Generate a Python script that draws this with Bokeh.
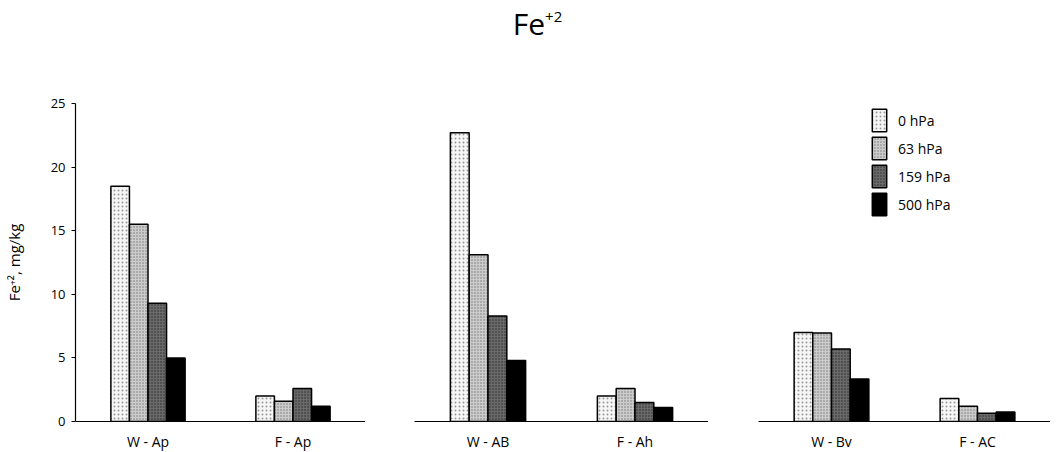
from bokeh.plotting import figure
from bokeh.models import ColumnDataSource, FactorRange, Range1d, Div, Legend
from bokeh.layouts import row, column
from bokeh.transform import dodge
from bokeh.embed import file_html
from bokeh.resources import INLINE

# ---- data ----
panel1 = ["W - Ap", "F - Ap"]
panel2 = ["W - AB", "F - Ah"]
panel3 = ["W - Bv", "F - AC"]
series_names = ["0 hPa", "63 hPa", "159 hPa", "500 hPa"]
v0 = [18.5, 2.0, 22.7, 2.0, 7.0, 1.8]
v63 = [15.5, 1.6, 13.1, 2.6, 6.95, 1.2]
v159 = [9.3, 2.6, 8.3, 1.5, 5.7, 0.65]
v500 = [5.0, 1.2, 4.8, 1.1, 3.35, 0.75]
y_ticks = [0, 5, 10, 15, 20, 25]

FONT = "Open Sans"
styles = [
    dict(fill_color="#f6f6f6", hatch_pattern="dot", hatch_color="#9a9a9a", hatch_scale=4, hatch_weight=1),
    dict(fill_color="#cccccc", hatch_pattern="dot", hatch_color="#777777", hatch_scale=3, hatch_weight=1),
    dict(fill_color="#6a6a6a", hatch_pattern="dot", hatch_color="#2a2a2a", hatch_scale=3, hatch_weight=1),
    dict(fill_color="#000000"),
]
offsets = [-0.192, -0.064, 0.064, 0.192]
bar_w = 0.128
FRAME_H = 318
TOP = 55

def make_panel(cats, idx, frame_w, border_left, with_y=False, with_legend=False):
    src = ColumnDataSource(dict(
        cat=cats,
        s0=v0[idx:idx + 2], s1=v63[idx:idx + 2], s2=v159[idx:idx + 2], s3=v500[idx:idx + 2],
    ))
    p = figure(
        x_range=FactorRange(factors=cats, range_padding=0),
        y_range=Range1d(0, 25),
        frame_width=frame_w, frame_height=FRAME_H,
        output_backend="svg", toolbar_location=None,
        y_axis_location="left" if with_y else None,
        min_border_left=border_left, min_border_right=0,
        min_border_top=TOP, min_border_bottom=0,
    )
    p.outline_line_color = None
    p.xgrid.visible = False
    p.ygrid.visible = False
    p.background_fill_color = None
    p.border_fill_color = None
    rends = []
    for k in range(4):
        r = p.vbar(x=dodge("cat", offsets[k], range=p.x_range), top="s%d" % k, width=bar_w,
                   source=src, line_color="black", line_width=1.5, **styles[k])
        rends.append(r)
    xa = p.xaxis[0]
    xa.axis_line_color = "black"
    xa.axis_line_width = 1.2
    xa.major_tick_line_color = None
    xa.minor_tick_line_color = None
    xa.major_label_text_font = FONT
    xa.major_label_text_font_size = "14px"
    xa.major_label_text_color = "black"
    xa.major_label_standoff = 4
    if with_y:
        ya = p.yaxis[0]
        ya.ticker = y_ticks
        ya.axis_line_color = "black"
        ya.axis_line_width = 1.2
        ya.major_tick_out = 4
        ya.major_tick_in = 0
        ya.major_tick_line_color = "black"
        ya.minor_tick_line_color = None
        ya.major_label_text_font = FONT
        ya.major_label_text_font_size = "13px"
        ya.major_label_text_color = "black"
        ya.major_label_standoff = 6
        ya.axis_label = "Fe\u207a\u00b2, mg/kg"
        ya.axis_label_text_font = FONT
        ya.axis_label_text_font_size = "15px"
        ya.axis_label_text_font_style = "normal"
        ya.axis_label_text_color = "black"
        ya.axis_label_standoff = 24
    if with_legend:
        leg = Legend(items=[(series_names[k], [rends[k]]) for k in range(4)],
                     location=(112, FRAME_H - 3 - 112))
        leg.border_line_color = None
        leg.background_fill_color = None
        leg.background_fill_alpha = 0
        leg.padding = 0
        leg.margin = 0
        leg.spacing = 0
        leg.glyph_width = 18
        leg.glyph_height = 28
        leg.label_height = 28
        leg.label_standoff = 10
        leg.label_text_font = FONT
        leg.label_text_font_size = "14px"
        leg.label_text_color = "black"
        p.add_layout(leg, "center")
    return p

f1 = make_panel(panel1, 0, 290, 73, with_y=True)
f2 = make_panel(panel2, 2, 294, 49)
f3 = make_panel(panel3, 4, 292, 50, with_legend=True)

title = Div(text="<span style='position:relative; left:10px'>Fe<span style='position:relative; top:-13px; font-size:15px'>+2</span></span>",
            width=1045, height=38,
            styles={"text-align": "center", "font-size": "30px", "font-family": FONT,
                    "color": "black", "line-height": "38px"})

layout = column(title, row(f1, f2, f3, spacing=0), spacing=0)

open("out.html", "w").write(file_html(layout, INLINE))
